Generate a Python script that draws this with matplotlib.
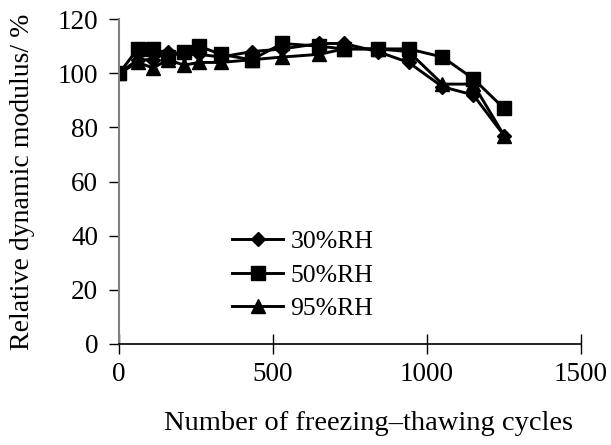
import matplotlib
matplotlib.use('Agg')
import matplotlib.pyplot as plt

plt.rcParams['font.family'] = ['Liberation Serif', 'DejaVu Serif']

# number of freeze-thaw cycles
cycles = [0, 60, 110, 160, 210, 260, 330, 430, 530, 650, 730, 840, 940, 1050, 1150, 1250]

# relative dynamic modulus (%)
rh30 = [100, 105, 105, 108, 107, 107, 106, 108, 109, 111, 111, 108, 104, 95, 92, 77]
rh50 = [100, 109, 109, 106, 108, 110, 107, 105, 111, 110, 109, 109, 109, 106, 98, 87]
rh95 = [100, 104, 102, 105, 103, 104, 104, 105, 106, 107, 109, 109, 108, 96, 96, 77]

labels = ['30%RH', '50%RH', '95%RH']
markers = ['D', 's', '^']
msizes = [7.5, 9.5, 9.5]

fig = plt.figure(figsize=(6.11, 4.45), dpi=100)
ax = fig.add_axes([0.195, 0.227, 0.756, 0.730])

for vals, lab, m, ms in zip([rh30, rh50, rh95], labels, markers, msizes):
    ax.plot(cycles, vals, color='black', lw=2.1, marker=m, ms=ms, label=lab)

ax.set_xlim(0, 1500)
ax.set_ylim(0, 120)
ax.set_xticks([0, 500, 1000, 1500])
ax.set_yticks(range(0, 121, 20))

ax.spines['top'].set_visible(False)
ax.spines['right'].set_visible(False)
ax.spines['left'].set_color('#808080')
ax.spines['left'].set_linewidth(1.5)
ax.spines['bottom'].set_linewidth(1.2)

ax.tick_params(axis='x', direction='inout', length=14, width=1, labelsize=19.5, pad=6)
ax.tick_params(axis='y', direction='out', length=7, width=1, labelsize=19.5, pad=8)

ax.set_xlabel('Number of freezing\u2013thawing cycles', fontsize=20.5)
ax.xaxis.set_label_coords(0.539, -0.205)
ax.set_ylabel('Relative dynamic modulus/ %', fontsize=20, labelpad=16)

ax.legend(loc='center', bbox_to_anchor=(0.397, 0.212), frameon=False,
          fontsize=18.5, handlelength=2.0, handletextpad=0.27, labelspacing=0.4)

fig.savefig('out.png', dpi=100)
